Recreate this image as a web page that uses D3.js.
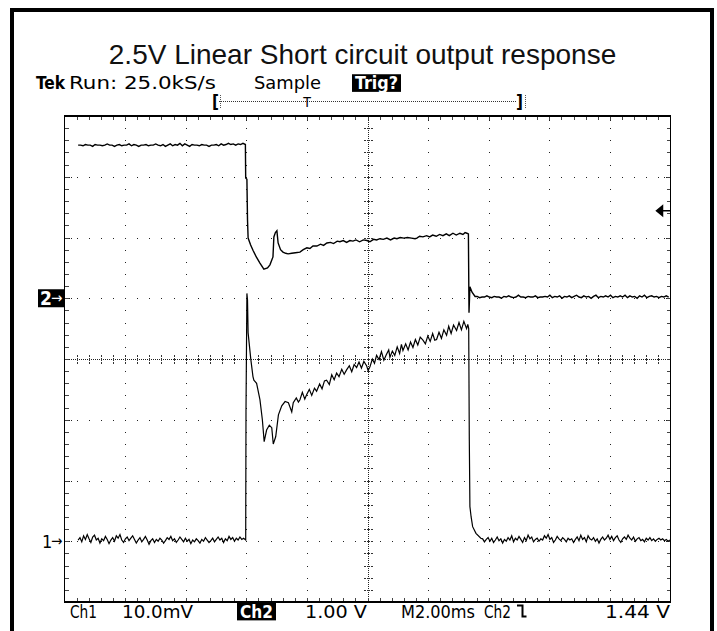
<!DOCTYPE html>
<html>
<head>
<meta charset="utf-8">
<script src="https://cdn.jsdelivr.net/npm/d3@7"></script>
<style>
  html, body { margin: 0; padding: 0; background: #fff; }
  svg { display: block; }
  .tek { font-family: "DejaVu Sans Condensed", "DejaVu Sans", sans-serif; font-stretch: condensed; }
</style>
</head>
<body>
<svg id="chart" width="717" height="631"></svg>
<script>
// Scope capture: M2.00ms/div, 10 div across => 0..20 ms
// Ch2 in volts (1.00 V/div), Ch1 in mV (10.0 mV/div)

// Ch2 before the short, one value every 0.08 ms from 0.45 ms
const ch2Pre = [
  2.52, 2.52, 2.51, 2.53, 2.52, 2.52, 2.50, 2.53, 2.52, 2.52,
  2.51, 2.52, 2.54, 2.52, 2.52, 2.50, 2.52, 2.53, 2.51, 2.52,
  2.52, 2.54, 2.51, 2.53, 2.52, 2.50, 2.52, 2.52, 2.53, 2.51,
  2.52, 2.52, 2.54, 2.52, 2.51, 2.53, 2.50, 2.52, 2.54, 2.51,
  2.53, 2.52, 2.55, 2.51, 2.54, 2.52, 2.50, 2.53, 2.52, 2.52,
  2.51, 2.53, 2.52, 2.52, 2.50, 2.52, 2.52, 2.53, 2.51, 2.54,
  2.52, 2.53, 2.55, 2.53, 2.54, 2.52, 2.54, 2.53, 2.55, 2.53];
const ch2PreStart = 0.45, ch2PreStep = 0.08;

// Ch2 during the short, [ms, V]
const ch2Transient = [
  [5.98, 1.98], [6.02, 1.96], [6.04, 1.29], [6.06, 0.99],
  [6.14, 0.88], [6.22, 0.79], [6.33, 0.68], [6.45, 0.58], [6.58, 0.48], [6.70, 0.50],
  [6.78, 0.55], [6.88, 0.68], [6.91, 1.01], [6.96, 1.08], [7.01, 1.11], [7.05, 0.91],
  [7.13, 0.80], [7.21, 0.76], [7.30, 0.74], [7.38, 0.73], [7.50, 0.74], [7.62, 0.75],
  [7.77, 0.76], [7.88, 0.80], [8.00, 0.83], [8.10, 0.82], [8.20, 0.86], [8.33, 0.86],
  [8.45, 0.89], [8.55, 0.87], [8.66, 0.91], [8.78, 0.92], [8.88, 0.90], [9.00, 0.94],
  [9.09, 0.93], [9.20, 0.95], [9.31, 0.92], [9.42, 0.95], [9.52, 0.94], [9.62, 0.96],
  [9.74, 0.93], [9.86, 0.96], [9.98, 0.95], [10.08, 0.93], [10.20, 0.97], [10.30, 0.96],
  [10.41, 0.98], [10.52, 0.97], [10.64, 0.99], [10.76, 0.96], [10.88, 0.99], [10.97, 0.98],
  [11.08, 1.00], [11.20, 0.99], [11.32, 1.00], [11.45, 0.99], [11.57, 0.98], [11.63, 0.99],
  [11.72, 1.02], [11.83, 1.01], [11.95, 1.03], [12.05, 1.01], [12.15, 1.04], [12.27, 1.02],
  [12.38, 1.05], [12.49, 1.03], [12.60, 1.06], [12.70, 1.03], [12.82, 1.07], [12.93, 1.04],
  [13.05, 1.07], [13.15, 1.05], [13.22, 1.08], [13.28, 1.07], [13.33, 1.06], [13.35, -0.24],
  [13.38, 0.19], [13.45, 0.10], [13.55, 0.03]
];

// Ch2 after release, every 0.08 ms from 13.62 ms
const ch2Post = [
  0.03, 0.01, 0.02, 0.02, 0.04, 0.02, 0.01, 0.03, 0.02, 0.02,
  0.00, 0.03, 0.02, 0.04, 0.02, 0.01, 0.02, 0.05, 0.02, 0.02,
  0.01, 0.03, 0.02, 0.02, 0.04, 0.01, 0.02, 0.02, 0.03, 0.02,
  0.05, 0.01, 0.03, 0.02, 0.04, 0.00, 0.03, 0.02, 0.04, 0.01,
  0.03, 0.05, 0.02, 0.01, 0.04, 0.02, 0.03, 0.00, 0.03, 0.05,
  0.01, 0.03, 0.02, 0.04, 0.02, 0.05, 0.01, 0.03, 0.02, 0.04,
  0.02, 0.05, 0.01, 0.04, 0.02, 0.03, 0.00, 0.04, 0.02, 0.05,
  0.01, 0.03, 0.04, 0.02, 0.03, 0.01, 0.03, 0.02, 0.04, 0.02];
const ch2PostStart = 13.62, ch2PostStep = 0.08;

// Ch1 before the short, every 0.06 ms from 0.45 ms
const ch1Pre = [
  0.2, 0.6, -0.1, 0.9, 0.3, 1.1, 0.4, -0.2, 0.7, 1.0,
  0.2, 0.5, -0.3, 0.4, 0.1, 0.8, 0.3, -0.4, 0.2, 0.6,
  0.0, 0.9, 0.5, 1.1, 0.2, -0.2, 0.4, 0.7, 0.1, 0.5,
  0.9, 0.3, -0.3, 0.2, 0.6, -0.1, 0.3, 0.8, 0.2, -0.5,
  0.1, 0.4, -0.2, 0.3, 0.0, 0.5, 0.2, -0.3, 0.1, 0.6,
  0.3, 0.8, 0.1, 0.4, -0.2, 0.2, 0.7, 0.3, -0.1, 0.5,
  0.0, 0.3, -0.4, 0.2, -0.1, 0.4, 0.1, -0.3, 0.3, 0.0,
  0.6, 0.2, -0.2, 0.1, 0.5, -0.1, 0.3, 0.7, 0.2, 0.5,
  -0.2, 0.4, 0.1, 0.8, 0.3, 0.6, 0.0, 0.5, 0.2, 0.7,
  0.3, 0.5];
const ch1PreStart = 0.45, ch1PreStep = 0.06;

// Ch1 during the short, [ms, mV]
const ch1Transient = [
  [5.98, 0.2], [5.99, 21.3], [6.02, 40.8], [6.04, 39.7], [6.06, 34.3], [6.15, 29.9],
  [6.22, 27.1], [6.25, 26.5], [6.34, 26.0], [6.45, 23.3], [6.53, 20.0], [6.59, 16.4],
  [6.67, 18.3], [6.76, 19.1], [6.84, 18.7], [6.89, 16.0], [6.97, 17.2], [7.06, 20.8],
  [7.17, 22.3], [7.28, 23.0], [7.39, 22.8], [7.50, 21.3], [7.55, 22.8], [7.65, 23.6],
  [7.72, 22.9], [7.77, 23.3], [7.85, 24.5], [7.93, 23.4], [7.99, 24.1], [8.08, 25.0],
  [8.16, 24.0], [8.25, 25.2], [8.32, 24.7], [8.42, 25.9], [8.50, 25.1], [8.58, 26.4],
  [8.65, 26.5], [8.74, 25.8], [8.82, 27.4], [8.90, 26.6], [8.98, 27.7], [9.06, 27.1],
  [9.15, 28.3], [9.23, 27.5], [9.31, 28.2], [9.40, 28.9], [9.48, 27.9], [9.56, 29.1],
  [9.64, 28.6], [9.72, 29.5], [9.80, 28.5], [9.88, 29.6], [9.97, 28.9], [10.02, 28.1],
  [10.08, 28.7], [10.16, 30.0], [10.23, 29.3], [10.30, 30.6], [10.38, 29.9], [10.46, 31.2],
  [10.54, 29.8], [10.62, 30.7], [10.70, 31.5], [10.74, 30.3], [10.82, 31.3], [10.90, 30.6],
  [10.98, 32.0], [11.06, 30.9], [11.12, 32.4], [11.17, 31.4], [11.26, 32.5], [11.34, 31.5],
  [11.42, 32.8], [11.50, 31.9], [11.58, 33.2], [11.66, 32.3], [11.74, 33.6], [11.83, 33.1],
  [11.91, 32.5], [11.99, 33.8], [12.07, 32.9], [12.15, 34.2], [12.22, 33.1], [12.28, 33.2],
  [12.36, 34.4], [12.44, 33.4], [12.52, 34.8], [12.61, 33.9], [12.68, 35.4], [12.76, 34.2],
  [12.84, 35.6], [12.94, 34.7], [13.02, 36.0], [13.10, 34.8], [13.18, 36.2], [13.27, 35.0],
  [13.31, 35.7], [13.34, 35.0], [13.36, 16.7], [13.38, 5.7], [13.42, 4.0], [13.47, 2.4],
  [13.58, 1.3], [13.74, 0.5]
];

// Ch1 after release, every 0.06 ms from 13.80 ms
const ch1Post = [
  0.4, -0.1, 0.3, 0.6, 0.0, 0.5, -0.2, 0.2, 0.7, 0.1,
  0.4, -0.3, 0.3, 0.0, 0.6, 0.2, 0.9, -0.1, 0.5, 0.2,
  0.8, 0.3, -0.2, 0.6, 0.1, 1.0, 0.4, 0.7, -0.1, 0.3,
  0.5, 0.0, 0.4, 0.2, 0.9, 0.5, 1.1, 0.3, 0.6, -0.2,
  0.2, 0.8, 0.4, 0.1, 0.6, 0.3, -0.1, 0.5, 0.2, 0.4,
  -0.2, 0.3, 0.7, 0.1, 1.0, 0.3, 0.6, -0.1, 0.9, 0.4,
  0.2, 0.6, 0.0, 0.4, -0.3, 0.3, 0.7, 0.2, 0.5, 1.0,
  0.3, 0.8, 0.1, 0.6, 0.9, 0.2, -0.2, 0.4, 0.7, 0.3,
  1.0, 0.5, 0.2, 0.7, 0.0, 0.4, 0.6, 0.1, 0.3, -0.1,
  0.5, 0.2, 0.6, 0.1, 0.4, 0.0, 0.3, 0.5, 0.2, 0.4,
  0.1, 0.3, 0.0, 0.2];
const ch1PostStart = 13.8, ch1PostStep = 0.06;

// channel setup: ground position (div from bottom) and units per div
const ch2Ref = 5, ch2PerDiv = 1.0;    // V
const ch1Ref = 1, ch1PerDiv = 10.0;   // mV
const trigLevel = 1.44;               // V on Ch2

const title = "2.5V Linear Short circuit output response";
const headerLabels = [
  { text: "Tek", x: 36, w: 29, bold: true },
  { text: "Run: 25.0kS/s", x: 69, w: 147 },
  { text: "Sample", x: 254, w: 67 },
  { text: "Trig?", x: 355, w: 43, inverse: true }
];
const footerLabels = [
  { text: "Ch1", x: 70, w: 27 },
  { text: "10.0mV", x: 122, w: 71 },
  { text: "Ch2", x: 240, w: 33, inverse: true },
  { text: "1.00 V", x: 305, w: 62 },
  { text: "M2.00ms", x: 401, w: 74 },
  { text: "Ch2", x: 484, w: 27 },
  { text: "1.44 V", x: 605, w: 65 }
];

// ---------------------------------------------------------------
const svg = d3.select('#chart');
svg.append('rect').attr('width', 717).attr('height', 631).attr('fill', '#fff');

// outer frame (bottom edge runs off the picture)
svg.append('rect')
  .attr('x', 12).attr('y', 10).attr('width', 700).attr('height', 700)
  .attr('fill', 'none').attr('stroke', '#000').attr('stroke-width', 4);

const plot = { left: 64.5, right: 670.5, top: 116, bottom: 602 };

const xDiv = d3.scaleLinear().domain([0, 10]).range([plot.left, plot.right]);
const yDiv = d3.scaleLinear().domain([0, 8]).range([plot.bottom, plot.top]);
const xTime = d3.scaleLinear().domain([0, 20]).range([plot.left, plot.right]);

// Graticule
const grid = svg.append('g').attr('shape-rendering', 'crispEdges');
const dotColor = '#222';
function dot(x, y) {
  grid.append('rect').attr('x', Math.round(x)).attr('y', Math.round(y))
    .attr('width', 1).attr('height', 1).attr('fill', dotColor);
}

const minorX = d3.range(1, 50).map(i => i / 5);
const minorY = d3.range(1, 40).map(i => i / 5);

// major lines as dotted rows of points
d3.range(1, 10).filter(i => i !== 5).forEach(i => {
  minorY.forEach(j => dot(xDiv(i), yDiv(j)));
  [1.5, 3.5].forEach(o => { dot(xDiv(i), plot.top + o); dot(xDiv(i), plot.bottom - o - 1); });
});
d3.range(1, 8).filter(k => k !== 4).forEach(k => {
  minorX.forEach(j => dot(xDiv(j), yDiv(k)));
  [2, 4, 6].forEach(o => { dot(plot.left + o, yDiv(k)); dot(plot.right - o - 1, yDiv(k)); });
});

// centre cross: dense dots + cross ticks
const cx = Math.round(xDiv(5)), cy = Math.round(yDiv(4));
d3.range(plot.top + 2, plot.bottom, 2).forEach(y => dot(cx, y));
d3.range(plot.left + 2, plot.right, 2).forEach(x => dot(x, cy));
minorY.forEach(j => {
  grid.append('line').attr('x1', cx - 4).attr('x2', cx + 5)
    .attr('y1', Math.round(yDiv(j)) + 0.5).attr('y2', Math.round(yDiv(j)) + 0.5)
    .attr('stroke', '#333').attr('stroke-width', 1).attr('stroke-dasharray', '2,1,3,1,2');
});
minorX.forEach(j => {
  grid.append('line').attr('y1', cy - 4).attr('y2', cy + 5)
    .attr('x1', Math.round(xDiv(j)) + 0.5).attr('x2', Math.round(xDiv(j)) + 0.5)
    .attr('stroke', '#333').attr('stroke-width', 1).attr('stroke-dasharray', '2,1,3,1,2');
});

// border ticks
minorX.forEach(j => {
  const x = Math.round(xDiv(j)) + 0.5;
  grid.append('line').attr('x1', x).attr('x2', x).attr('y1', plot.top).attr('y2', plot.top + 4)
    .attr('stroke', '#444');
  grid.append('line').attr('x1', x).attr('x2', x).attr('y1', plot.bottom - 4).attr('y2', plot.bottom)
    .attr('stroke', '#444');
});
minorY.forEach(j => {
  const y = Math.round(yDiv(j)) + 0.5;
  grid.append('line').attr('y1', y).attr('y2', y).attr('x1', plot.left).attr('x2', plot.left + 4)
    .attr('stroke', '#444');
  grid.append('line').attr('y1', y).attr('y2', y).attr('x1', plot.right - 4).attr('x2', plot.right)
    .attr('stroke', '#444');
});

grid.append('rect')
  .attr('x', plot.left).attr('y', plot.top)
  .attr('width', plot.right - plot.left).attr('height', plot.bottom - plot.top)
  .attr('fill', 'none').attr('stroke', '#000').attr('stroke-width', 1.3);

// Traces
function expand(start, step, vals) {
  return vals.map((v, i) => [start + i * step, v]);
}
const ch2Data = expand(ch2PreStart, ch2PreStep, ch2Pre)
  .concat(ch2Transient, expand(ch2PostStart, ch2PostStep, ch2Post));
const ch1Data = expand(ch1PreStart, ch1PreStep, ch1Pre)
  .concat(ch1Transient, expand(ch1PostStart, ch1PostStep, ch1Post));

const ch2Line = d3.line()
  .x(d => xTime(d[0]))
  .y(d => yDiv(ch2Ref + d[1] / ch2PerDiv));
const ch1Line = d3.line()
  .x(d => xTime(d[0]))
  .y(d => yDiv(ch1Ref + d[1] / ch1PerDiv));

svg.append('path').datum(ch2Data).attr('d', ch2Line)
  .attr('fill', 'none').attr('stroke', '#000').attr('stroke-width', 1.4)
  .attr('stroke-linejoin', 'miter');
svg.append('path').datum(ch1Data).attr('d', ch1Line)
  .attr('fill', 'none').attr('stroke', '#000').attr('stroke-width', 1.2)
  .attr('stroke-linejoin', 'miter');

// Channel ground markers
const y2 = yDiv(ch2Ref), y1 = yDiv(ch1Ref);
svg.append('rect').attr('x', 38).attr('y', y2 - 9).attr('width', 26).attr('height', 18).attr('fill', '#000');
svg.append('text').attr('class', 'tek').attr('x', 40).attr('y', y2 + 6.5)
  .attr('font-size', 19).attr('font-weight', 'bold').attr('fill', '#fff').text('2');
svg.append('text').attr('class', 'tek').attr('x', 51).attr('y', y2 + 5)
  .attr('font-size', 15).attr('fill', '#fff').text('→');
svg.append('text').attr('class', 'tek').attr('x', 42).attr('y', y1 + 6.5)
  .attr('font-size', 18).attr('fill', '#000').text('1');
svg.append('text').attr('class', 'tek').attr('x', 51).attr('y', y1 + 5)
  .attr('font-size', 15).attr('fill', '#000').text('→');

// Trigger level marker on right edge
const yt = yDiv(ch2Ref + trigLevel / ch2PerDiv);
svg.append('path')
  .attr('d', `M${plot.right - 14},${yt} L${plot.right - 8},${yt - 5} L${plot.right - 8},${yt + 5} Z M${plot.right - 9},${yt} H${plot.right}`)
  .attr('fill', '#000').attr('stroke', '#000').attr('stroke-width', 1.5);

// Title
svg.append('text')
  .attr('x', 362.5).attr('y', 64)
  .attr('text-anchor', 'middle')
  .attr('font-family', '"Liberation Sans", Arial, sans-serif')
  .attr('font-size', 28).attr('fill', '#111')
  .text(title);

// Header / footer readouts
function drawLabels(list, baseline, size) {
  list.forEach(d => {
    if (d.inverse) {
      svg.append('rect').attr('x', d.x - 3).attr('y', baseline - size * 0.82)
        .attr('width', d.w + 6).attr('height', size * 0.98).attr('fill', '#000');
    }
    svg.append('text').attr('class', 'tek')
      .attr('x', d.x).attr('y', baseline)
      .attr('font-size', size)
      .attr('font-weight', d.bold || d.inverse ? 'bold' : 'normal')
      .attr('fill', d.inverse ? '#fff' : '#000')
      .attr('textLength', d.w).attr('lengthAdjust', 'spacingAndGlyphs')
      .text(d.text);
  });
}
drawLabels(headerLabels, 89, 18);
drawLabels(footerLabels, 617.5, 18);

// falling slope icon after footer Ch2
svg.append('path').attr('d', 'M517,605.5 H522.5 V616.5 H526.5')
  .attr('fill', 'none').attr('stroke', '#000').attr('stroke-width', 2);

// record view bar
const bar = svg.append('g');
bar.append('text').attr('class', 'tek').attr('x', 212).attr('y', 108)
  .attr('font-size', 17).attr('font-weight', 'bold').text('[');
bar.append('text').attr('class', 'tek').attr('x', 516).attr('y', 108)
  .attr('font-size', 17).attr('font-weight', 'bold').text(']');
bar.append('line').attr('x1', 219).attr('x2', 516).attr('y1', 101.5).attr('y2', 101.5)
  .attr('stroke', '#333').attr('stroke-dasharray', '1,1');
bar.append('line').attr('x1', 220.5).attr('x2', 220.5).attr('y1', 95).attr('y2', 108)
  .attr('stroke', '#555').attr('stroke-dasharray', '1,1');
bar.append('line').attr('x1', 525.5).attr('x2', 525.5).attr('y1', 95).attr('y2', 108)
  .attr('stroke', '#555').attr('stroke-dasharray', '1,1');
bar.append('text').attr('class', 'tek').attr('x', 307).attr('y', 107)
  .attr('text-anchor', 'middle').attr('font-size', 14).attr('fill', '#000').text('T');
</script>
</body>
</html>
